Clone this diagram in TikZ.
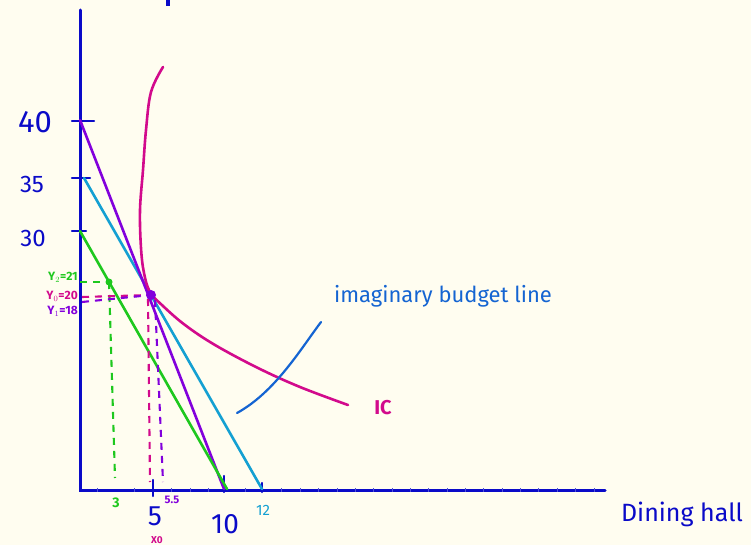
\documentclass[tikz,border=0pt]{standalone}
\usepackage{fontspec}
\setmainfont{Fira Sans}
\definecolor{bg}{RGB}{255,253,240}
\definecolor{axisblue}{RGB}{10,10,200}
\definecolor{bpurple}{RGB}{130,0,220}
\definecolor{blight}{RGB}{20,160,210}
\definecolor{bgreen}{RGB}{30,200,30}
\definecolor{icmag}{RGB}{210,10,140}
\definecolor{noteblue}{RGB}{20,100,210}
\tikzset{
  axisline/.style={axisblue,line width=3pt,line cap=round},
  budget/.style={line width=2.6pt,line cap=round},
  guide/.style={line width=2.1pt,dash pattern=on 7pt off 6pt},
  lab/.style={inner sep=0pt},
}
\begin{document}
\begin{tikzpicture}[x=1pt,y=-1pt]
\fill[bg] (0,0) rectangle (751,545);
\useasboundingbox (0,0) rectangle (751,545);
% axes
\coordinate (ytop) at (80,10);
\coordinate (orig) at (80,490);
\coordinate (xend) at (605,490);
\draw[axisline] (ytop) -- (orig) -- (xend);
\fill[axisblue] (166,0) rectangle (170,6);
% y ticks
\coordinate (t40a) at (72,121); \coordinate (t40b) at (94,121);
\coordinate (t35a) at (72,178); \coordinate (t35b) at (90,178);
\coordinate (t30a) at (72,231); \coordinate (t30b) at (86,231);
\draw[axisline,line width=2.4pt] (t40a) -- (t40b);
\draw[axisline,line width=2.4pt] (t35a) -- (t35b);
\draw[axisline,line width=2.4pt] (t30a) -- (t30b);
% x ticks
\coordinate (t5a) at (153,480); \coordinate (t5b) at (153,496);
\coordinate (t10a) at (224,476); \coordinate (t10b) at (224,492);
\coordinate (t12a) at (262,483); \coordinate (t12b) at (262,492);
\draw[axisline,line width=2.4pt] (t5a) -- (t5b);
\draw[axisline,line width=2.4pt] (t10a) -- (t10b);
\draw[axisline,line width=2.4pt] (t12a) -- (t12b);
\foreach \xx in {97,134,171,190,208,245,281,300,318,337,355,373,392,410,428,447,465,483,502,520,538,557,575,594}
  \draw[axisblue!70,line width=0.8pt] (\xx,488) -- (\xx,492);
% y labels
\node[lab,axisblue,font=\fontsize{31}{31}\selectfont] (l40) at (35,122) {40};
\node[lab,axisblue,font=\fontsize{24}{24}\selectfont] (l35) at (32,184) {35};
\node[lab,axisblue,font=\fontsize{24}{24}\selectfont] (l30) at (33,238) {30};
% budget lines
\coordinate (p40) at (80,120);
\coordinate (p10) at (224,489);
\coordinate (p35) at (84,178);
\coordinate (p12) at (262,489);
\coordinate (p30) at (80,231);
\coordinate (p10g) at (227,489);
\draw[budget,blight] (p35) -- (p12);
\draw[budget,bpurple] (p40) -- (p10);
\draw[budget,bgreen] (p30) -- (p10g);
% indifference curve
\draw[icmag,line width=2.6pt,line cap=round] plot[smooth,tension=0.6] coordinates {
 (163,67) (151,92) (146,130) (143,170) (140,210) (141,248) (144,273) (150,292) (163,306) (185,325) (215,345) (258,368) (300,387) (348,405)};
% points
\coordinate (E0) at (151,295);
\coordinate (E2) at (109,282);
% guides
\coordinate (g2y) at (80,282); \coordinate (g2x) at (115,478);
\coordinate (g0y) at (82,297); \coordinate (g0x) at (150,482);
\coordinate (g1y) at (82,302); \coordinate (g1x) at (163,482);
\coordinate (E0a) at (148,299); \coordinate (E0b) at (155,300);
\draw[guide,bgreen] (g2y) -- (E2);
\draw[guide,bgreen] (E2) -- (g2x);
\draw[guide,icmag] (g0y) -- (E0);
\draw[guide,icmag] (E0a) -- (g0x);
\draw[guide,bpurple] (g1y) -- (E0);
\draw[guide,bpurple] (E0b) -- (g1x);
\fill[bgreen] (E2) circle (3.5);
\fill[bpurple] (E0) circle (5);
% small labels
\node[lab,bgreen,font=\bfseries\fontsize{12}{12}\selectfont,anchor=east] (ly2) at (78,277) {Y$_2$=21};
\node[lab,icmag,font=\bfseries\fontsize{12}{12}\selectfont,anchor=east] (ly0) at (78,296) {Y$_0$=20};
\node[lab,bpurple,font=\bfseries\fontsize{12}{12}\selectfont,anchor=east] (ly1) at (78,311) {Y$_1$=18};
% x labels
\node[lab,bgreen,font=\bfseries\fontsize{14}{14}\selectfont] (l3) at (116,503) {3};
\node[lab,bpurple,font=\bfseries\fontsize{11}{11}\selectfont] (l55) at (172,500) {5.5};
\node[lab,axisblue,font=\fontsize{28}{28}\selectfont] (l5) at (155,516) {5};
\node[lab,icmag,font=\bfseries\fontsize{10}{10}\selectfont] (lx0) at (157,540) {X0};
\node[lab,axisblue,font=\fontsize{28}{28}\selectfont] (l10) at (225,524) {10};
\node[lab,blight,font=\fontsize{15}{15}\selectfont] (l12) at (263,510) {12};
\node[lab,axisblue,font=\fontsize{25}{25}\selectfont] (ldh) at (682,514) {Dining hall};
% annotations
\node[lab,noteblue,font=\fontsize{22}{22}\selectfont] (limg) at (443,296) {imaginary budget line};
\coordinate (arrS) at (237,413);
\coordinate (arrE) at (321,322);
\draw[noteblue,line width=2.2pt,line cap=round] (arrS) .. controls (275,392) and (300,350) .. (arrE);
\node[lab,icmag,font=\bfseries\fontsize{20}{20}\selectfont] (lic) at (383,408) {IC};
\end{tikzpicture}
\end{document}
